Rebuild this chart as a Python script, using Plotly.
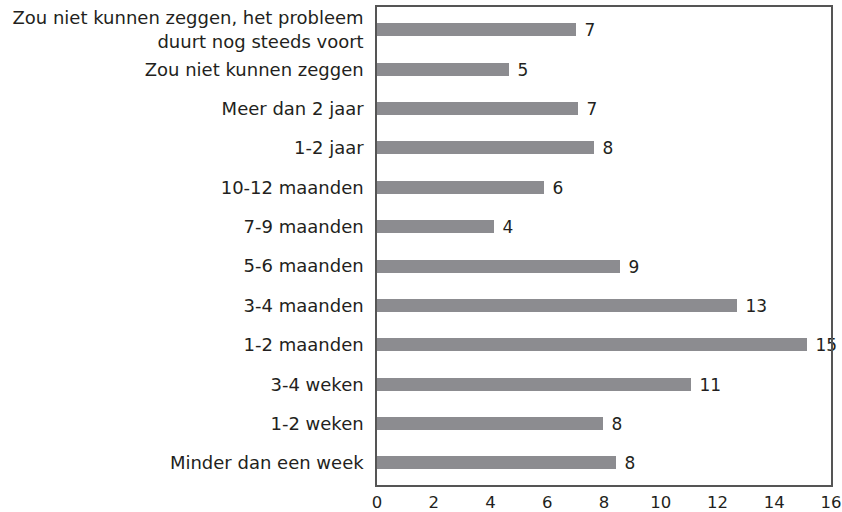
import plotly.graph_objects as go

categories = [
    "Minder dan een week",
    "1-2 weken",
    "3-4 weken",
    "1-2 maanden",
    "3-4 maanden",
    "5-6 maanden",
    "7-9 maanden",
    "10-12 maanden",
    "1-2 jaar",
    "Meer dan 2 jaar",
    "Zou niet kunnen zeggen",
    "Zou niet kunnen zeggen, het probleem<br>duurt nog steeds voort",
]
values = [8.42, 7.95, 11.06, 15.14, 12.69, 8.56, 4.12, 5.89, 7.65, 7.08, 4.65, 7.01]
value_labels = ["8", "8", "11", "15", "13", "9", "4", "6", "8", "7", "5", "7"]
x_ticks = [0, 2, 4, 6, 8, 10, 12, 14, 16]

font_family = "'DejaVu Sans', 'Liberation Sans', Arial, sans-serif"
text_color = "#231f20"

fig = go.Figure(
    go.Bar(
        y=categories,
        x=values,
        orientation="h",
        marker=dict(color="#8c8c90", line=dict(width=0)),
        width=0.33,
        text=value_labels,
        texttemplate="\u00a0%{text}",
        textposition="outside",
        constraintext="none",
        textfont=dict(family=font_family, size=17, color=text_color),
        cliponaxis=False,
        hoverinfo="skip",
    )
)

fig.update_layout(
    width=842,
    height=512,
    margin=dict(l=377, r=11, t=7, b=27, autoexpand=False),
    paper_bgcolor="white",
    plot_bgcolor="white",
    showlegend=False,
    font=dict(family=font_family, size=17, color=text_color),
    bargap=0,
)

fig.update_xaxes(
    range=[0, 16],
    tickvals=x_ticks,
    ticktext=[str(t) for t in x_ticks],
    showgrid=False,
    zeroline=False,
    showline=True,
    linecolor="#555555",
    linewidth=1.5,
    mirror=True,
    ticks="",
    automargin=False,
    ticklabelstandoff=1,
    tickfont=dict(family=font_family, size=16.5, color=text_color),
)

fig.update_yaxes(
    type="category",
    categoryorder="array",
    categoryarray=categories,
    range=[-0.56, 11.58],
    showgrid=False,
    zeroline=False,
    showline=True,
    linecolor="#555555",
    linewidth=1.5,
    mirror=True,
    ticks="",
    automargin=False,
    ticklabelstandoff=8,
    tickfont=dict(family=font_family, size=18, color=text_color),
)

fig.write_html(
    "out.html",
    config={"displayModeBar": False},
    post_script="document.body.style.margin='0';document.body.style.overflow='hidden';",
)
